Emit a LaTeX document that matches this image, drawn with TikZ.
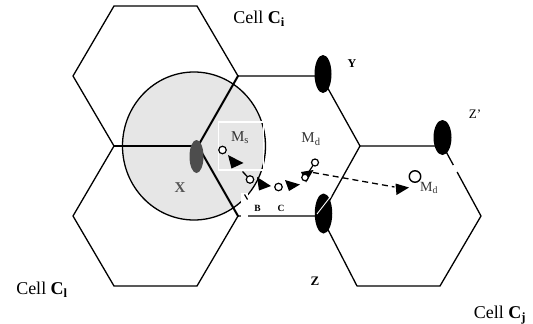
\documentclass[tikz,border=0pt]{standalone}
\usepackage{fontspec}
\setmainfont{Liberation Serif}
\usetikzlibrary{shapes.geometric}
\definecolor{cellgray}{HTML}{E6E6E6}
\definecolor{bsgray}{HTML}{4D4D4D}
\definecolor{txtgray}{HTML}{333333}
\definecolor{xgray}{HTML}{555555}
\begin{document}
\begin{tikzpicture}[x=1pt,y=-1pt,
 edge/.style={line width=1.3pt,line join=round},
 bold edge/.style={line width=2pt,line cap=round},
 bs/.style={ellipse,fill=black,inner sep=0pt},
 mob/.style={circle,draw=black,fill=white,line width=1.2pt,inner sep=0pt,minimum size=7.5pt},
 head/.style={fill=black},
 track/.style={line width=1.3pt,dash pattern=on 6pt off 4pt},
 cell/.style={font=\fontsize{18}{20}\selectfont,inner sep=0pt},
 lab/.style={inner sep=0pt}]
\useasboundingbox (0,0) rectangle (533,324);
% coverage area of station X
\fill[cellgray] (194,146) ellipse [x radius=71.5, y radius=74];
\draw[line width=1.3pt] (194,146) ellipse [x radius=71.5, y radius=74];
% hexagon vertices
\coordinate (h1a) at (114,6);
\coordinate (h1b) at (197,6);
\coordinate (h1c) at (238,76);
\coordinate (v) at (198,146);
\coordinate (h1e) at (114,146);
\coordinate (h1f) at (73,76);
\coordinate (h2c) at (238,216);
\coordinate (h2d) at (197,286);
\coordinate (h2e) at (114,286);
\coordinate (h2f) at (73,216);
\coordinate (m2) at (321,76);
\coordinate (m3) at (360,146);
\coordinate (m4) at (321,216);
\coordinate (r2) at (443,146);
\coordinate (g1) at (453.3,165);
\coordinate (g2) at (457.1,172);
\coordinate (r3) at (481,216);
\coordinate (r4) at (440,286);
\coordinate (r5) at (357,286);
% cells
\draw[edge] (h1e) -- (h1f) -- (h1a) -- (h1b) -- (h1c);
\draw[edge] (h1e) -- (h2f) -- (h2e) -- (h2d) -- (h2c);
\draw[edge] (h1c) -- (m2) -- (m3) -- (m4) -- (h2c);
\draw[edge] (m3) -- (r2) -- (g1);
\draw[edge] (g2) -- (r3) -- (r4) -- (r5) -- (m4);
\draw[bold edge] (h1e) -- (v);
\draw[bold edge] (v) -- (h1c);
\draw[bold edge] (v) -- (h2c);
% white patches
\fill[white] (241,193) rectangle (247.5,217);
\draw[line width=1.2pt] (244.5,194.5) -- (247.5,199.5);
\draw[white,line width=1.5pt] (218.5,122) rectangle (263.5,170);
% base stations
\node[bs,fill=bsgray,minimum width=14pt,minimum height=33pt] (X) at (196.5,156.5) {};
\node[bs,minimum width=17pt,minimum height=38pt] (Y) at (323,74) {};
\node[bs,minimum width=17.5pt,minimum height=40pt] (Z) at (323.5,213.5) {};
\node[bs,minimum width=18pt,minimum height=35pt] (Zp) at (442.5,137.5) {};
\draw[white,line width=0.9pt] (331,196) -- (317,214);
% mobile track
\coordinate (pms) at (222.5,150);
\coordinate (pb) at (250,179.5);
\coordinate (pc) at (278.5,187);
\coordinate (pd) at (305,177.5);
\coordinate (pe) at (315,162.5);
\coordinate (pmd) at (415,176.5);
\coordinate (t1) at (242.5,171.5);
\coordinate (t2) at (313,172.5);
\coordinate (t3) at (394.5,187);
\fill[head] (228,155) -- (243.5,163) -- (231.5,168.5) -- cycle;
\fill[head] (257,177) -- (271,186) -- (259,190.5) -- cycle;
\fill[head] (285,180) -- (300,184.5) -- (289,191) -- cycle;
\fill[head] (301,172) -- (313.5,170) -- (306,182.5) -- cycle;
\fill[head] (395.5,183.5) -- (409,187.5) -- (396.5,195) -- cycle;
\draw[line width=1.2pt] (pe) -- (pd);
\draw[line width=1.3pt] (t1) -- (pb);
\draw[track] (t2) -- (t3);
\node[mob] (ms) at (pms) {};
\node[mob] (b) at (pb) {};
\node[mob] (c) at (pc) {};
\node[mob,minimum size=6.5pt] (d) at (pd) {};
\node[mob,minimum size=7pt] (e) at (pe) {};
\node[mob,minimum size=11.5pt,line width=1.4pt] (md) at (pmd) {};
% labels
\node[cell] (lci) at (259,19) {Cell \textbf{C}\textsubscript{\textbf{i}}};
\node[cell] (lcl) at (42,290) {Cell \textbf{C}\textsubscript{\textbf{l}}};
\node[cell] (lcj) at (500,315) {Cell \textbf{C}\textsubscript{\textbf{j}}};
\node[lab,font=\bfseries\fontsize{12}{13}\selectfont] (ly) at (352,64) {Y};
\node[lab,font=\fontsize{13}{14}\selectfont] (lzp) at (475,114) {Z’};
\node[lab,font=\bfseries\fontsize{13}{14}\selectfont] (lz) at (315,281) {Z};
\node[lab,font=\fontsize{15}{16}\selectfont,text=txtgray] (lms) at (240,138) {M\textsubscript{s}};
\node[lab,font=\fontsize{15}{16}\selectfont,text=txtgray] (lmd) at (311,139) {M\textsubscript{d}};
\node[lab,font=\fontsize{14}{15}\selectfont,text=txtgray] (lmd2) at (429,188) {M\textsubscript{d}};
\node[lab,font=\bfseries\fontsize{15}{16}\selectfont,text=xgray] (lx) at (180,188) {X};
\node[lab,font=\bfseries\fontsize{9.5}{10}\selectfont] (lb) at (257.5,208) {B};
\node[lab,font=\bfseries\fontsize{9.5}{10}\selectfont] (lc) at (281,208) {C};
\end{tikzpicture}
\end{document}
